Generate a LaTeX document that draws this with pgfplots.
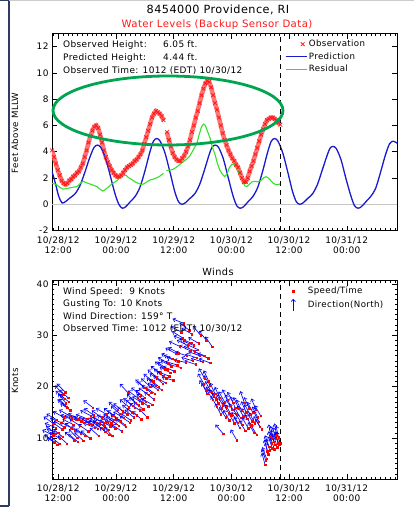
\documentclass[border=0pt]{standalone}
\usepackage{fontspec}
\setmainfont{DejaVu Sans}[LetterSpace=4]
\usepackage{pgfplots}
\usepackage{pgfplotstable}
\pgfplotsset{compat=1.18}
\usetikzlibrary{arrows.meta}

\definecolor{frameblue}{RGB}{45,60,95}
\definecolor{obsred}{RGB}{255,25,25}
\definecolor{predblue}{RGB}{25,25,205}
\definecolor{resgreen}{RGB}{50,225,40}
\definecolor{ringgreen}{RGB}{0,165,80}

% observed water level (ft above MLLW), hours since 10/28 00:00
\pgfplotstableread{
t v
10.7 4.1
11.1 3.6
11.5 3.1
11.9 2.6
12.3 2.2
12.7 1.8
13.1 1.6
13.5 1.5
13.9 1.6
14.3 1.8
14.7 1.9
15.1 2.1
15.5 2.2
15.9 2.4
16.3 2.5
16.7 2.8
17.1 3.1
17.5 3.6
17.9 4.1
18.3 4.7
18.7 5.2
19.1 5.6
19.5 5.9
19.9 6.0
20.3 5.8
20.7 5.3
21.1 4.7
21.5 4.1
21.9 3.6
22.3 3.2
22.7 2.9
23.1 2.6
23.5 2.4
23.9 2.2
24.3 2.1
24.7 2.1
25.1 2.2
25.5 2.4
25.9 2.6
26.3 2.8
26.7 2.9
27.1 3.0
27.5 3.1
27.9 3.3
28.3 3.4
28.7 3.6
29.1 3.8
29.5 4.1
29.9 4.6
30.3 5.1
30.7 5.6
31.1 6.1
31.5 6.6
31.9 6.9
32.3 7.1
32.7 7.0
33.1 6.9
33.5 6.7
33.9 6.4
34.2 nan
34.6 5.5
35.0 4.9
35.4 4.4
35.8 3.9
36.2 3.6
36.6 3.4
37.0 3.3
37.4 3.3
37.8 3.5
38.2 3.7
38.6 4.0
39.0 4.4
39.4 4.9
39.8 5.5
40.2 6.0
40.6 6.6
41.0 7.1
41.4 7.7
41.8 8.3
42.2 8.8
42.6 9.2
43.0 9.4
43.4 9.3
43.8 8.9
44.2 8.3
44.6 7.7
45.0 7.2
45.4 6.6
45.8 6.0
46.2 5.4
46.6 4.9
47.0 4.5
47.4 4.1
47.8 3.8
48.2 3.5
48.6 3.3
49.0 3.0
49.4 2.8
49.8 2.4
50.2 2.0
50.6 1.7
51.0 1.7
51.4 2.0
51.8 2.5
52.2 2.9
52.6 3.3
53.0 3.8
53.4 4.3
53.8 4.8
54.2 5.3
54.6 5.7
55.0 6.1
55.4 6.4
55.8 6.5
56.2 6.6
56.6 6.6
57.0 6.5
57.4 6.4
57.8 6.2
58.2 6.05
}\obs

\pgfplotstableread{
t v
10.7 2.5
11.4 1.6
12.1 0.6
12.8 0.1
13.5 0.2
14.5 0.5
15.5 0.8
16.5 1.4
17.5 2.4
18.5 3.5
19.4 4.3
20.1 4.5
20.8 4.35
21.8 3.55
22.8 2.2
23.8 0.8
24.6 0.0
25.3 -0.3
26.0 -0.2
27.0 0.2
28.0 0.6
29.0 1.3
30.0 2.5
31.0 3.9
31.8 4.8
32.5 5.0
33.2 4.8
34.2 3.9
35.2 2.5
36.2 1.0
37.0 0.2
37.7 0.0
38.4 0.1
39.4 0.45
40.4 0.8
41.4 1.5
42.4 2.6
43.4 3.8
44.0 4.35
44.6 4.5
45.3 4.35
46.3 3.5
47.3 2.1
48.3 0.7
49.1 -0.1
49.8 -0.3
50.5 -0.2
51.5 0.2
52.5 0.6
53.5 1.3
54.5 2.5
55.5 3.9
56.3 4.8
57.0 5.0
57.7 4.8
58.7 3.9
59.7 2.5
60.7 1.0
61.5 0.2
62.2 0.0
62.9 0.1
63.9 0.45
64.9 0.8
65.9 1.5
66.9 2.6
67.9 3.7
68.5 4.25
69.1 4.4
69.8 4.25
70.8 3.4
71.8 2.0
72.8 0.7
73.6 -0.1
74.3 -0.3
75.0 -0.2
76.0 0.2
77.0 0.6
78.0 1.2
79.0 2.4
80.0 3.7
80.9 4.6
81.7 4.8
82.45 4.65
}\pred

\pgfplotstableread{
t v
10.7 1.6
11.6 1.5
12.3 1.3
13.0 1.15
13.8 1.2
14.5 1.25
15.2 1.3
15.9 1.35
16.6 1.6
17.2 1.75
17.8 1.65
18.5 1.55
19.3 1.45
20.0 1.35
20.7 1.15
21.3 1.0
21.9 1.15
22.4 1.3
23.0 1.5
23.6 1.65
24.2 1.8
24.8 2.0
25.5 2.2
26.1 2.2
26.7 2.0
27.4 1.85
28.0 1.7
28.6 1.6
29.2 1.5
29.8 1.55
30.4 1.7
31.1 1.85
31.7 1.9
32.4 2.0
33.0 2.1
33.5 2.25
33.9 2.35
34.2 nan
34.5 2.55
35.2 2.6
35.8 2.65
36.5 2.8
37.2 3.0
37.9 3.2
38.6 3.4
39.2 3.6
39.8 3.95
40.3 4.3
40.8 4.6
41.3 5.3
41.8 5.9
42.2 6.1
42.6 6.0
43.1 5.5
43.6 5.0
44.1 4.3
44.6 3.8
45.1 3.1
45.6 2.6
46.1 2.3
46.6 2.1
47.1 2.3
47.6 2.8
48.1 3.05
48.6 3.0
49.2 2.7
49.8 2.2
50.3 1.8
50.8 1.4
51.2 1.35
51.7 1.5
52.3 1.7
52.9 1.75
53.5 1.7
54.1 1.8
54.7 2.0
55.2 2.1
55.7 2.0
56.2 1.8
56.7 1.6
57.2 1.5
57.7 1.5
58.2 1.55
}\resid

% wind: time (h), speed (kn), direction from (deg T)
\pgfplotstableread{
t s dir
10.9 10.5 117
11.0 12.8 125
11.2 9.2 127
11.4 10.8 130
11.5 12.0 112
11.7 13.5 120
11.8 8.7 124
12.0 11.0 107
12.2 8.9 128
12.3 9.9 120
12.6 13.0 112
12.8 11.7 125
12.9 10.2 130
13.0 18.5 137
13.1 14.0 120
13.2 12.1 122
13.3 17.6 132
13.45 18.9 135
13.6 16.8 140
13.75 16.0 130
13.8 8.9 132
13.9 15.9 137
14.05 17.8 132
14.2 17.0 130
14.35 14.3 120
14.5 15.4 124
14.65 12.0 118
14.8 13.6 112
15.1 12.6 117
15.3 9.6 130
15.45 11.5 125
15.6 13.5 112
15.9 10.0 137
16.0 9.3 130
16.2 13.6 120
16.5 12.4 122
16.7 10.8 128
16.8 13.3 112
17.2 9.5 132
17.4 13.0 122
17.6 10.4 127
18.0 13.7 112
18.2 11.3 125
18.4 12.8 122
18.6 9.9 130
18.8 14.3 117
19.0 12.6 120
19.2 15.9 127
19.4 14.4 125
19.6 12.0 112
20.0 13.0 107
20.2 11.8 128
20.4 10.4 132
20.6 12.7 120
20.8 13.2 117
21.0 14.0 125
21.2 11.8 122
21.4 12.9 120
21.6 12.4 112
21.8 11.2 130
22.0 14.6 120
22.2 13.2 122
22.4 11.6 127
22.6 10.6 128
22.8 12.3 122
23.0 12.9 125
23.2 10.4 137
23.4 14.3 130
23.6 13.5 117
23.8 11.9 125
24.0 12.8 124
24.2 13.9 128
24.4 15.5 130
24.6 12.4 125
24.8 14.7 132
25.0 13.3 122
25.2 11.3 124
25.4 15.2 130
25.6 13.9 120
25.8 12.6 125
26.0 12.2 127
26.3 14.6 128
26.5 18.8 137
26.7 16.0 130
26.9 13.0 122
27.1 13.4 125
27.3 15.0 127
27.5 16.3 128
27.7 14.0 130
27.9 15.9 130
28.1 16.9 134
28.3 14.4 125
28.5 17.8 127
28.7 16.4 128
28.9 15.4 124
29.1 18.3 130
29.3 13.6 132
29.5 16.8 122
29.7 15.6 125
29.9 19.8 132
30.0 17.8 130
30.2 17.0 130
30.4 19.5 128
30.5 14.0 137
30.7 16.2 125
30.8 18.4 124
31.1 20.0 132
31.3 18.8 130
31.5 16.5 120
31.7 21.0 128
31.9 17.5 127
32.1 18.6 125
32.3 20.2 130
32.5 21.8 130
32.7 19.4 124
32.9 20.0 128
33.1 21.3 122
33.3 22.6 125
33.5 19.4 117
33.7 20.6 130
33.9 22.0 127
34.1 23.4 128
34.3 20.7 120
34.5 21.6 125
34.7 23.4 124
34.9 24.5 120
35.1 22.0 112
35.3 22.7 118
35.5 24.0 117
35.7 25.4 115
35.9 21.2 107
36.1 23.0 112
36.3 25.2 112
36.5 26.4 118
36.7 24.2 107
36.9 24.9 110
37.1 26.5 117
37.3 27.8 115
37.5 23.7 104
37.6 30.6 118
37.8 29.5 122
38.1 32.3 112
38.3 29.0 112
38.5 24.7 102
38.7 26.0 108
38.9 28.0 117
39.2 31.0 127
39.4 27.0 115
39.6 28.5 110
39.8 30.2 120
40.0 25.0 107
40.2 28.0 112
40.4 26.9 114
40.6 24.3 108
40.8 25.6 107
41.0 27.2 115
41.2 28.4 120
41.4 26.0 110
41.6 30.0 140
42.0 24.8 107
42.4 26.0 112
42.8 29.0 142
43.2 25.5 114
43.6 24.6 110
44.0 27.8 145
42.3 20.5 150
42.5 21.5 150
42.8 19.3 145
43.0 18.6 152
43.3 21.0 155
43.6 20.2 148
43.8 19.0 150
44.1 17.4 150
44.3 18.2 140
44.6 18.6 155
44.8 17.5 145
45.0 16.1 150
45.3 16.8 150
45.6 17.8 155
45.8 14.6 152
46.0 15.8 148
46.2 16.4 150
46.3 10.8 140
46.6 17.0 150
46.8 14.0 148
47.0 16.0 145
47.2 17.3 155
47.4 14.9 150
47.6 13.4 150
47.8 16.3 155
48.0 14.4 152
48.2 15.5 148
48.4 16.9 150
48.6 12.9 150
48.8 15.9 155
49.0 14.7 145
49.1 9.6 150
49.3 13.0 150
49.5 15.8 155
49.7 12.0 152
49.9 13.9 150
50.1 15.3 155
50.3 12.6 148
50.5 14.2 150
50.7 16.9 160
50.9 11.4 148
51.1 15.0 155
51.3 13.7 152
51.5 11.9 150
51.7 15.8 155
51.9 14.5 152
52.1 12.5 150
52.3 13.3 148
52.5 14.9 152
52.7 11.0 150
52.9 12.9 150
53.1 15.5 158
53.3 10.6 148
53.5 14.0 152
53.7 13.2 152
53.9 12.2 150
54.1 14.3 150
54.3 11.7 148
55.0 4.8 165
55.15 5.6 162
55.3 6.0 160
55.5 7.4 165
55.7 6.8 165
55.85 8.3 160
56.0 7.6 160
56.2 10.3 170
56.35 9.0 165
56.5 8.0 162
56.65 10.0 168
56.8 9.3 168
56.95 7.8 162
57.1 8.7 160
57.25 9.8 165
57.4 10.5 170
57.55 8.2 162
57.7 9.0 165
57.8 10.1 168
57.9 8.8 160
58.1 9.0 162
58.2 9.0 159
}\wind

\pgfplotsset{
  legmark/.style={legend image code/.code={\path (0bp,0bp) (21bp,0bp);
    \draw[##1] plot coordinates {(#1,0bp)};}},
  legline/.style={legend image code/.code={\draw[##1] (0bp,0bp) -- (21bp,0bp);}},
  legarrow/.style={legend image code/.code={\path (0bp,0bp) (21bp,0bp);
    \draw[blue, line width=0.6pt,
    -{Straight Barb[length=2.5bp,width=4.5bp]}] (8bp,-6bp) -- (8bp,6bp);}},
  idl/.style={
    scale only axis, width=345bp,
    xmin=10.7, xmax=82.45,
    xtick={12,24,36,48,60,72},
    xticklabels={{10/28/12\\12:00},{10/29/12\\00:00},{10/29/12\\12:00},
      {10/30/12\\00:00},{10/30/12\\12:00},{10/31/12\\00:00}},
    minor xtick={11,12,...,82},
    xticklabel style={align=center, font=\fontsize{9}{10.3}\selectfont, yshift=-2.5bp},
    yticklabel style={font=\fontsize{9}{10}\selectfont},
    tick align=inside, major tick length=5bp, minor tick length=2.5bp,
    every tick/.style={black, line width=0.5pt},
    axis line style={line width=0.7pt},
    /pgf/number format/assume math mode=true,
    legend cell align=left,
    legend style={at={(0.675,0.975)}, anchor=north west, draw=none, fill=none,
      inner sep=0pt, font=\fontsize{8.7}{10}\selectfont, row sep=1.5bp,
      nodes={inner sep=1.5bp}},
  }
}

\begin{document}
\begin{tikzpicture}
\useasboundingbox (0,0) rectangle (414bp,-508bp);

% water levels
\begin{axis}[idl, at={(52bp,-230.5bp)}, anchor=south west, height=197bp,
  ymin=-2, ymax=13, ytick={-2,0,...,12}, unbounded coords=jump]
\addplot[gray!45, line width=0.6pt, forget plot] coordinates {(10.7,0) (82.45,0)};
\addplot[obsred!60, line width=4.5bp, forget plot] table[x=t, y=v] {\obs};
\addplot[only marks, mark=x, obsred, mark size=2.6pt, mark options={line width=0.8pt},
  legmark=17bp] table[x=t, y=v] {\obs};
\addlegendentry{Observation}
\addplot[predblue, line width=1.3pt, smooth, legline] table[x=t, y=v] {\pred};
\addlegendentry{Prediction}
\addplot[resgreen, line width=1.1pt, legline] table[x=t, y=v] {\resid};
\addlegendentry{Residual}
\addplot[black, line width=0.9pt, dash pattern=on 5bp off 4bp, forget plot]
  coordinates {(58.2,-2) (58.2,13)};
\end{axis}

% winds
\begin{axis}[idl, at={(52bp,-479bp)}, anchor=south west, height=198.3bp,
  ymin=2, ymax=40.6, ytick={10,20,30,40}, minor ytick={2,3,...,40}, clip=false]
\addplot[blue, line width=0.65pt, -{Straight Barb[length=2.5bp,width=4bp]},
  quiver={u={-2.5*sin(\thisrow{dir})}, v={-2.35*cos(\thisrow{dir})}}, forget plot]
  table[x=t, y=s] {\wind};
\addplot[only marks, mark=square*, red, mark size=0.75pt, forget plot]
  table[x=t, y=s] {\wind};
\addplot[black, line width=0.9pt, dash pattern=on 5bp off 4bp, forget plot]
  coordinates {(58.2,2) (58.2,40.6)};
\addlegendimage{only marks, mark=square*, red, mark size=0.95pt, legmark=8bp}
\addlegendentry{Speed/Time}
\addlegendimage{legarrow}
\addlegendentry{Direction(North)}
\end{axis}

% titles and labels
\node[anchor=base] at (218bp,-13.3bp) {\fontsize{11.3}{13}\selectfont 8454000 Providence, RI};
\node[anchor=base, text=obsred] at (217bp,-27.3bp) {\fontsize{10.2}{12}\selectfont Water Levels (Backup Sensor Data)};
\node[anchor=base] at (218bp,-275bp) {\fontsize{9.8}{12}\selectfont Winds};
\node[rotate=90] at (15bp,-133bp) {\fontsize{8.7}{10}\selectfont Feet Above MLLW};
\node[rotate=90] at (15bp,-381bp) {\fontsize{8.7}{10}\selectfont Knots};

\begin{scope}[every node/.style={anchor=base west, inner sep=0pt, font=\fontsize{9}{10}\selectfont}]
\node at (63bp,-47.3bp) {Observed Height:};
\node at (163bp,-47.3bp) {6.05 ft.};
\node at (63bp,-60.3bp) {Predicted Height:};
\node at (163bp,-60.3bp) {4.44 ft.};
\node at (63bp,-73bp) {Observed Time: 1012 (EDT) 10/30/12};
\node at (63bp,-294.3bp) {Wind Speed:\ \ 9 Knots};
\node at (63bp,-306.8bp) {Gusting To: 10 Knots};
\node at (63bp,-319.3bp) {Wind Direction: 159° T};
\node at (63bp,-331.8bp) {Observed Time: 1012 (EDT) 10/30/12};
\end{scope}

% screenshot frame and highlight ring
\draw[frameblue, line width=1.8bp] (9bp,0bp) -- (9bp,-506bp);
\draw[frameblue, line width=1.4bp] (0bp,-0.7bp) -- (9bp,-0.7bp);
\draw[frameblue, line width=1.4bp] (0bp,-506bp) -- (9bp,-506bp);
\draw[gray!40, line width=0.8bp] (9bp,-0.4bp) -- (414bp,-0.4bp);
\draw[ringgreen, line width=2.8bp] (168bp,-110.5bp) ellipse [x radius=115bp, y radius=34.5bp];
\end{tikzpicture}
\end{document}
